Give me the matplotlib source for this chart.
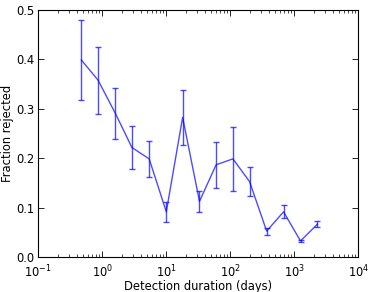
import matplotlib
matplotlib.use('Agg')
import matplotlib.pyplot as plt

# detection duration bins (days), rejected fraction and its error
duration = [0.47, 0.86, 1.6, 2.9, 5.4, 10, 18, 33, 60, 110, 200, 370, 680, 1250, 2300]
fraction = [0.399, 0.358, 0.291, 0.222, 0.199, 0.092, 0.283, 0.113, 0.187, 0.199,
            0.153, 0.053, 0.092, 0.033, 0.067]
err = [0.080, 0.068, 0.052, 0.043, 0.037, 0.020, 0.055, 0.021, 0.047, 0.064,
       0.030, 0.007, 0.013, 0.002, 0.0065]

plt.rcParams['font.family'] = 'DejaVu Sans'
plt.rcParams['font.size'] = 8.3

fig = plt.figure(figsize=(3.74, 2.92), dpi=100)
ax = fig.add_axes([38.3 / 374, 1 - 257.3 / 292, 320 / 374, 247.3 / 292])

ax.errorbar(duration, fraction, yerr=err, color='b', alpha=0.7, lw=1,
            elinewidth=1, capsize=2, capthick=1)

ax.set_xscale('log')
ax.set_xlim(0.1, 1e4)
ax.set_ylim(0, 0.5)
ax.set_yticks([0.0, 0.1, 0.2, 0.3, 0.4, 0.5])
ax.set_xlabel('Detection duration (days)', labelpad=0)
ax.set_ylabel('Fraction rejected', labelpad=1)
ax.tick_params(which='both', direction='in', top=True, right=True)
ax.tick_params(axis='x', pad=4.5)
ax.tick_params(axis='y', pad=3)
ax.tick_params(which='major', length=4, width=0.6)
ax.tick_params(which='minor', length=2, width=0.5)
for s in ax.spines.values():
    s.set_linewidth(0.8)

fig.savefig('out.png', dpi=100)
